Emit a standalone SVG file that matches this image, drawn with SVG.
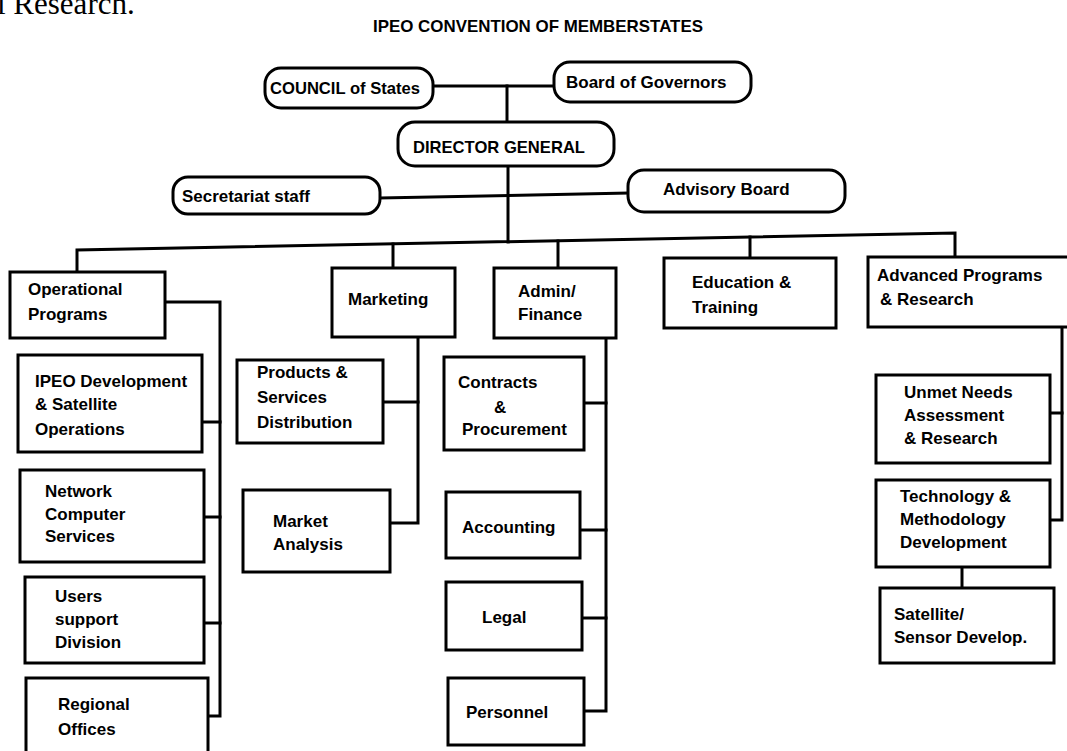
<svg xmlns="http://www.w3.org/2000/svg" width="1067" height="751" viewBox="0 0 1067 751">
<defs>
<style>
.bg{fill:#ffffff}
.box{fill:#ffffff;stroke:#000;stroke-width:3}
.line{fill:none;stroke:#000;stroke-width:3;stroke-linecap:square}
.t{font-family:"Liberation Sans",Arial,sans-serif;font-weight:bold;font-size:17px;fill:#000}
.title{font-family:"Liberation Sans",Arial,sans-serif;font-weight:bold;font-size:17px;fill:#000}
.serif{font-family:"Liberation Serif","Times New Roman",serif;font-size:31px;fill:#000}
</style>
</defs>
<rect class="bg" x="0" y="0" width="1067" height="751"/>
<text class="serif" x="-3" y="14">l Research.</text>
<text class="title" x="373" y="32" textLength="330" lengthAdjust="spacingAndGlyphs">IPEO CONVENTION OF MEMBERSTATES</text>

<g id="connectors">
<path class="line" d="M433,86 H553"/>
<path class="line" d="M507,86 V122"/>
<path class="line" d="M508,166 V242"/>
<path class="line" d="M380,198 L628,193"/>
<path class="line" d="M77,272 V250 L955,233 V257"/>
<path class="line" d="M393,244 V268"/>
<path class="line" d="M558,241 V268"/>
<path class="line" d="M750,237 V258"/>
<path class="line" d="M165,302 H220 V716 H208"/>
<path class="line" d="M202,422 H220"/>
<path class="line" d="M204,517 H220"/>
<path class="line" d="M204,623 H220"/>
<path class="line" d="M418,337 V523 H390"/>
<path class="line" d="M383,402 H418"/>
<path class="line" d="M606,338 V711 H584"/>
<path class="line" d="M584,403 H606"/>
<path class="line" d="M580,530 H606"/>
<path class="line" d="M582,618 H606"/>
<path class="line" d="M1062,328 V520 H1050"/>
<path class="line" d="M1050,413 H1062"/>
<path class="line" d="M962,567 V588"/>
</g>

<g id="council">
<rect class="box" x="265" y="68" width="168" height="40" rx="16"/>
<text class="t" x="270" y="94" textLength="150" lengthAdjust="spacingAndGlyphs">COUNCIL of States</text>
</g>
<g id="board-governors">
<rect class="box" x="554" y="62" width="197" height="40" rx="16"/>
<text class="t" x="566" y="88">Board of Governors</text>
</g>
<g id="director-general">
<rect class="box" x="398" y="122" width="216" height="44" rx="17"/>
<text class="t" x="413" y="153" textLength="172" lengthAdjust="spacingAndGlyphs">DIRECTOR GENERAL</text>
</g>
<g id="secretariat">
<rect class="box" x="173" y="177" width="207" height="37" rx="15"/>
<text class="t" x="182" y="202" textLength="128" lengthAdjust="spacingAndGlyphs">Secretariat staff</text>
</g>
<g id="advisory">
<rect class="box" x="628" y="170" width="217" height="42" rx="16"/>
<text class="t" x="663" y="195">Advisory Board</text>
</g>

<g id="operational">
<rect class="box" x="10" y="272" width="155" height="66"/>
<text class="t" x="28" y="295">Operational</text>
<text class="t" x="28" y="320">Programs</text>
</g>
<g id="marketing">
<rect class="box" x="332" y="268" width="123" height="69"/>
<text class="t" x="348" y="305">Marketing</text>
</g>
<g id="admin-finance">
<rect class="box" x="494" y="268" width="122" height="70"/>
<text class="t" x="518" y="297">Admin/</text>
<text class="t" x="518" y="320">Finance</text>
</g>
<g id="education">
<rect class="box" x="664" y="258" width="172" height="70"/>
<text class="t" x="692" y="288">Education &amp;</text>
<text class="t" x="692" y="313">Training</text>
</g>
<g id="advanced">
<rect class="box" x="868" y="257" width="230" height="70"/>
<text class="t" x="877" y="281">Advanced  Programs</text>
<text class="t" x="880" y="305">&amp; Research</text>
</g>

<g id="ipeo-dev">
<rect class="box" x="18" y="355" width="184" height="97"/>
<text class="t" x="35" y="387">IPEO Development</text>
<text class="t" x="35" y="410">&amp; Satellite</text>
<text class="t" x="35" y="435">Operations</text>
</g>
<g id="network">
<rect class="box" x="20" y="470" width="184" height="92"/>
<text class="t" x="45" y="497">Network</text>
<text class="t" x="45" y="520">Computer</text>
<text class="t" x="45" y="542">Services</text>
</g>
<g id="users">
<rect class="box" x="25" y="577" width="179" height="86"/>
<text class="t" x="55" y="602">Users</text>
<text class="t" x="55" y="625">support</text>
<text class="t" x="55" y="648">Division</text>
</g>
<g id="regional">
<rect class="box" x="26" y="678" width="182" height="100"/>
<text class="t" x="58" y="710">Regional</text>
<text class="t" x="58" y="735">Offices</text>
</g>

<g id="products">
<rect class="box" x="237" y="360" width="146" height="83"/>
<text class="t" x="257" y="378">Products &amp;</text>
<text class="t" x="257" y="403">Services</text>
<text class="t" x="257" y="428">Distribution</text>
</g>
<g id="market-analysis">
<rect class="box" x="243" y="490" width="147" height="82"/>
<text class="t" x="273" y="527">Market</text>
<text class="t" x="273" y="550">Analysis</text>
</g>

<g id="contracts">
<rect class="box" x="444" y="357" width="140" height="93"/>
<text class="t" x="458" y="388">Contracts</text>
<text class="t" x="494" y="413">&amp;</text>
<text class="t" x="462" y="435">Procurement</text>
</g>
<g id="accounting">
<rect class="box" x="446" y="492" width="134" height="66"/>
<text class="t" x="462" y="533">Accounting</text>
</g>
<g id="legal">
<rect class="box" x="446" y="582" width="136" height="68"/>
<text class="t" x="482" y="623">Legal</text>
</g>
<g id="personnel">
<rect class="box" x="448" y="678" width="136" height="67"/>
<text class="t" x="466" y="718">Personnel</text>
</g>

<g id="unmet-needs">
<rect class="box" x="876" y="375" width="174" height="88"/>
<text class="t" x="904" y="398">Unmet Needs</text>
<text class="t" x="904" y="421">Assessment</text>
<text class="t" x="904" y="444">&amp; Research</text>
</g>
<g id="technology">
<rect class="box" x="876" y="480" width="174" height="87"/>
<text class="t" x="900" y="502">Technology &amp;</text>
<text class="t" x="900" y="525">Methodology</text>
<text class="t" x="900" y="548">Development</text>
</g>
<g id="satellite-sensor">
<rect class="box" x="880" y="588" width="174" height="75"/>
<text class="t" x="894" y="620">Satellite/</text>
<text class="t" x="894" y="643">Sensor Develop.</text>
</g>
</svg>
